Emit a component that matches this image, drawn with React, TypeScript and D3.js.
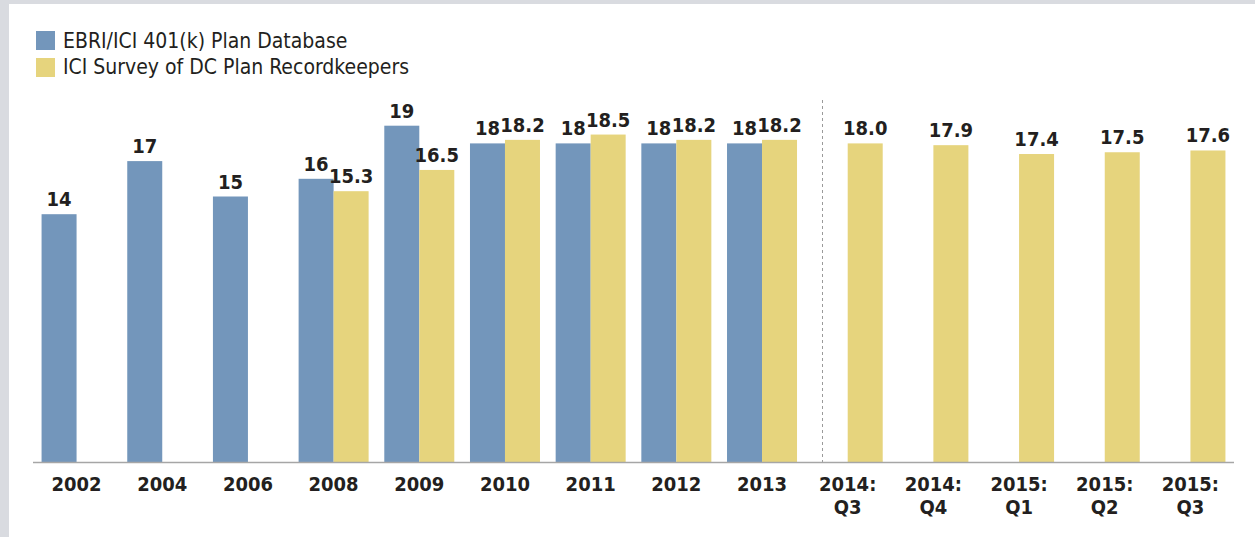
import * as d3 from "d3";
import { useEffect, useRef } from "react";

const categories = [
  "2002", "2004", "2006", "2008", "2009", "2010", "2011", "2012", "2013",
  "2014:|Q3", "2014:|Q4", "2015:|Q1", "2015:|Q2", "2015:|Q3",
];
const ebriValues = [14, 17, 15, 16, 19, 18, 18, 18, 18, null, null, null, null, null];
const iciValues = [null, null, null, 15.3, 16.5, 18.2, 18.5, 18.2, 18.2, 18.0, 17.9, 17.4, 17.5, 17.6];
const seriesNames = ["EBRI/ICI 401(k) Plan Database", "ICI Survey of DC Plan Recordkeepers"];

const BLUE = "#7396bb";
const YELLOW = "#e6d47d";
const TEXT = "#231f20";
const FONT = "'DejaVu Sans Condensed', 'DejaVu Sans', sans-serif";

export default function App() {
  const svgRef = useRef<SVGSVGElement | null>(null);

  useEffect(() => {
    if (!svgRef.current) return;
    const width = 1255;
    const height = 537;
    const svg = d3.select(svgRef.current);
    svg.selectAll("*").remove();
    svg.attr("width", width).attr("height", height);

    // frame
    svg.append("rect").attr("width", width).attr("height", height).attr("fill", "#d9dbe0");
    svg.append("rect").attr("x", 9).attr("y", 4).attr("width", width - 9).attr("height", height - 4).attr("fill", "#fff");

    const baseline = 462;
    const x = d3
      .scaleBand()
      .domain(categories)
      .range([33, 1234])
      .paddingInner(0.183)
      .paddingOuter(0.1);
    const sub = d3.scaleBand().domain(["ebri", "ici"]).range([0, x.bandwidth()]);
    const y = d3.scaleLinear().domain([0, 20]).range([baseline, baseline - 354]);

    const rows = categories.map((c, i) => ({ cat: c, ebri: ebriValues[i], ici: iciValues[i] }));
    const g = svg.append("g");

    // blue bars
    const blue = rows.filter((d) => d.ebri != null);
    g.selectAll(".ebri")
      .data(blue)
      .enter()
      .append("rect")
      .attr("x", (d) => x(d.cat)! + sub("ebri")!)
      .attr("y", (d) => y(d.ebri!))
      .attr("width", sub.bandwidth())
      .attr("height", (d) => baseline - y(d.ebri!))
      .attr("fill", BLUE);
    g.selectAll(".ebriLabel")
      .data(blue)
      .enter()
      .append("text")
      .attr("x", (d) => x(d.cat)! + sub("ebri")! + sub.bandwidth() / 2)
      .attr("y", (d) => y(d.ebri!) - 8)
      .attr("text-anchor", "middle")
      .attr("font-family", FONT)
      .attr("font-weight", "bold")
      .attr("font-size", 20)
      .attr("fill", TEXT)
      .text((d) => String(d.ebri));

    // yellow bars
    const yellow = rows.filter((d) => d.ici != null);
    g.selectAll(".ici")
      .data(yellow)
      .enter()
      .append("rect")
      .attr("x", (d) => x(d.cat)! + sub("ici")!)
      .attr("y", (d) => y(d.ici!))
      .attr("width", sub.bandwidth())
      .attr("height", (d) => baseline - y(d.ici!))
      .attr("fill", YELLOW);
    g.selectAll(".iciLabel")
      .data(yellow)
      .enter()
      .append("text")
      .attr("x", (d) => x(d.cat)! + sub("ici")! + sub.bandwidth() / 2)
      .attr("y", (d) => y(d.ici!) - 8)
      .attr("text-anchor", "middle")
      .attr("font-family", FONT)
      .attr("font-weight", "bold")
      .attr("font-size", 20)
      .attr("fill", TEXT)
      .text((d) => d.ici!.toFixed(1));

    // dashed separator between 2013 and 2014:Q3
    const leftEdge = x(categories[8])! + x.bandwidth();
    const rightEdge = x(categories[9])! + sub("ici")!;
    const sepX = Math.round((leftEdge + rightEdge) / 2) + 0.5;
    svg.append("line")
      .attr("x1", sepX).attr("x2", sepX)
      .attr("y1", 100).attr("y2", baseline)
      .attr("stroke", "#9a9a9a")
      .attr("stroke-width", 1)
      .attr("stroke-dasharray", "3,3");

    // axis line
    svg.append("line")
      .attr("x1", 33).attr("x2", 1234)
      .attr("y1", baseline + 0.5).attr("y2", baseline + 0.5)
      .attr("stroke", "#a6a6a6")
      .attr("stroke-width", 1.5);

    // category labels
    const labels = svg.append("g")
      .attr("font-family", FONT)
      .attr("font-weight", "bold")
      .attr("font-size", 20)
      .attr("fill", TEXT)
      .attr("text-anchor", "middle");
    categories.forEach((c) => {
      const cx = x(c)! + x.bandwidth() / 2;
      c.split("|").forEach((line, i) => {
        labels.append("text").attr("x", cx).attr("y", 491 + i * 23).text(line);
      });
    });

    // legend
    const legend = svg.append("g").attr("font-family", FONT).attr("font-size", 21).attr("fill", TEXT);
    [BLUE, YELLOW].forEach((color, i) => {
      legend.append("rect")
        .attr("x", 36).attr("y", 31 + i * 27)
        .attr("width", 19).attr("height", 19)
        .attr("fill", color);
      legend.append("text")
        .attr("x", 63).attr("y", 48 + i * 26)
        .text(seriesNames[i]);
    });
  }, []);

  return (
    <div style={{ position: "fixed", left: 0, top: 0, width: 1255, height: 537 }}>
      <svg ref={svgRef} style={{ display: "block" }} />
    </div>
  );
}
